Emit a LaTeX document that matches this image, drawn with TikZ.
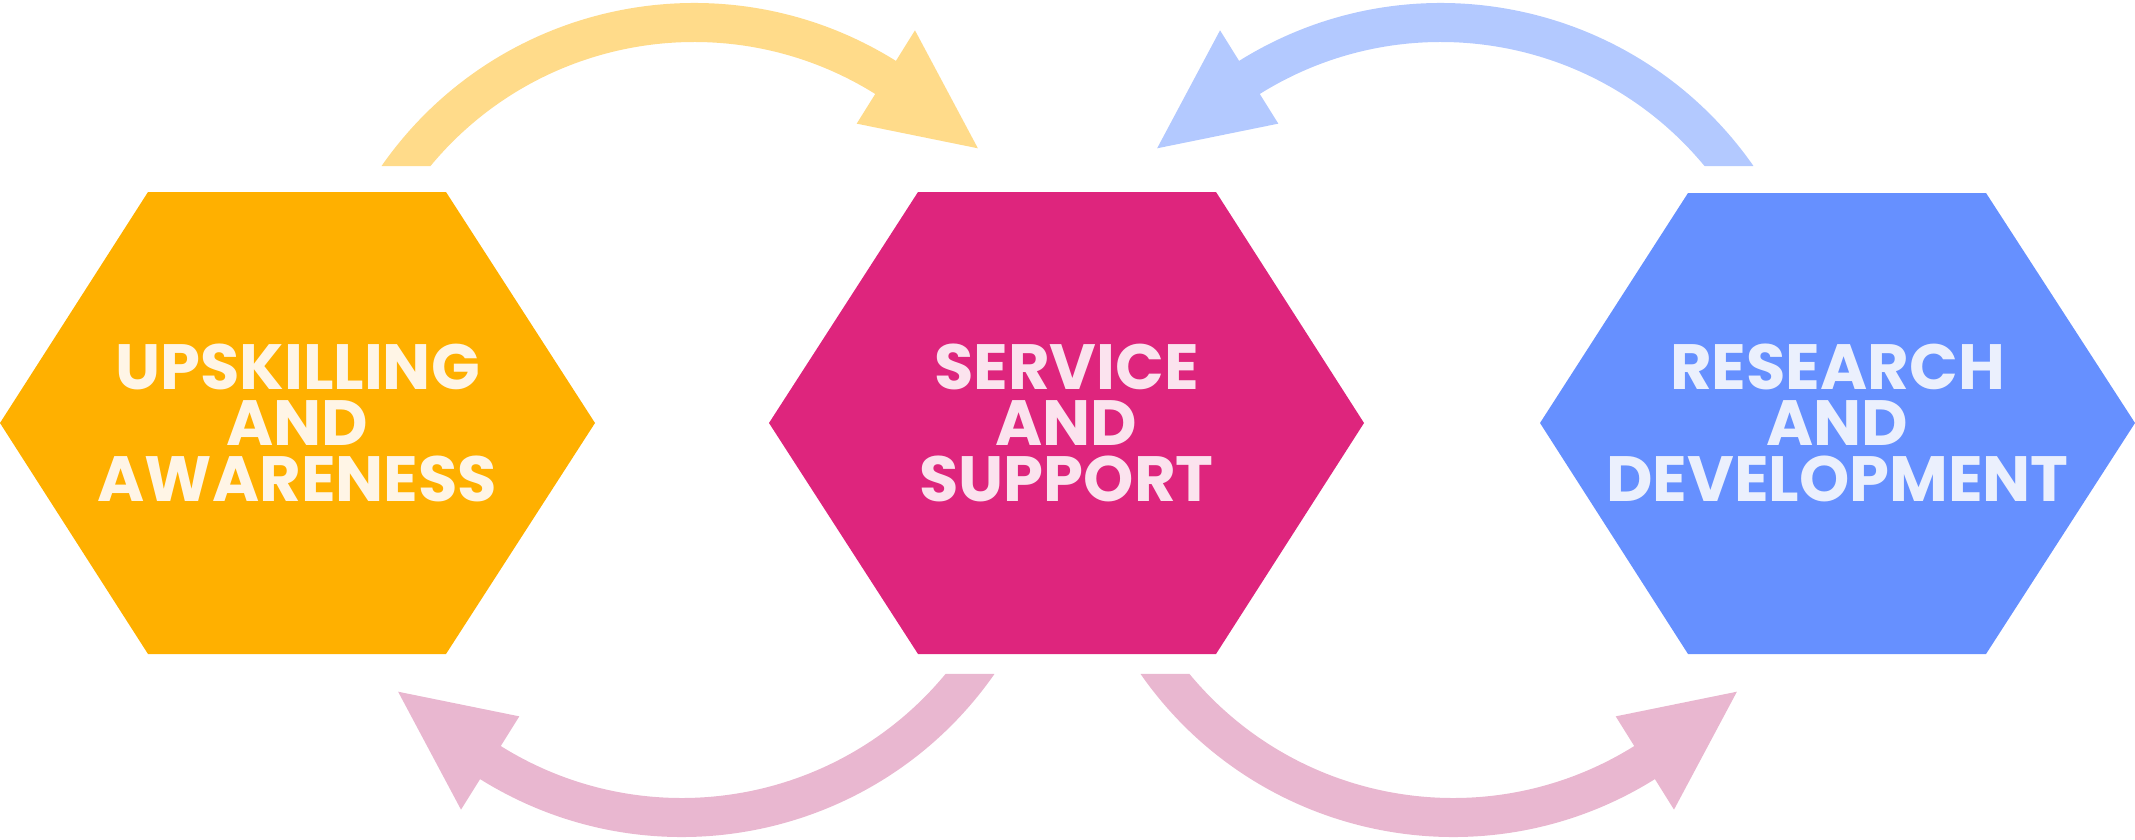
\documentclass[tikz,border=0pt]{standalone}
\usepackage{fontspec}
\setmainfont{Poppins}
\definecolor{hexA}{HTML}{FFB000}
\definecolor{hexB}{HTML}{DE257D}
\definecolor{hexC}{HTML}{6690FF}
\definecolor{txtA}{HTML}{FFF5E6}
\definecolor{txtB}{HTML}{FBE3EE}
\definecolor{txtC}{HTML}{EBF0FD}
\definecolor{arrA}{HTML}{FFDB8A}
\definecolor{arrB}{HTML}{E9B7D0}
\definecolor{arrC}{HTML}{B3C9FF}
\tikzset{
  hexlabel/.style={align=center, inner sep=0pt, font=\fontsize{64}{56}\selectfont\bfseries},
  pics/cyclearrow/.style={code={
    \fill[#1] (-145.1:381) arc[start angle=-145.1, end angle=-58, radius=381]
      -- (-58:417) -- (-39.7:369) -- (-58:307) -- (-58:342)
      arc[start angle=-58, end angle=-140.4, radius=342] -- cycle;
  }}
}
\begin{document}
\begin{tikzpicture}[x=1pt,y=-1pt]
\useasboundingbox (0,0) rectangle (2135,840);
% hexagons
\fill[hexA] (0,423) -- (148,192) -- (446,192) -- (595,423) -- (446,654) -- (148,654) -- cycle;
\fill[hexB] (769,423) -- (918,192) -- (1216,192) -- (1364,423) -- (1216,654) -- (918,654) -- cycle;
\fill[hexC] (1540,423) -- (1688,193) -- (1986,193) -- (2135,423) -- (1986,654) -- (1688,654) -- cycle;
\node[hexlabel, text=txtA] (up) at (297.5,423) {UPSKILLING\\AND\\AWARENESS};
\node[hexlabel, text=txtB] (ss) at (1066.5,423) {SERVICE\\AND\\SUPPORT};
\node[hexlabel, text=txtC] (rd) at (1837.5,423) {RESEARCH\\AND\\DEVELOPMENT};
% arrows
\pic at (694,384) {cyclearrow=arrA};
\pic[xscale=-1] at (1441,384) {cyclearrow=arrC};
\pic[rotate=180] at (682,456) {cyclearrow=arrB};
\pic[yscale=-1] at (1453,456) {cyclearrow=arrB};
\end{tikzpicture}
\end{document}
